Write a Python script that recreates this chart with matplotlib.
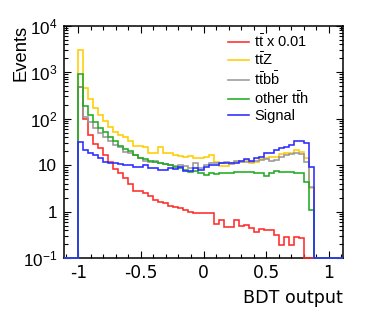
import numpy as np
import matplotlib
matplotlib.use("Agg")
import matplotlib.pyplot as plt
from matplotlib.ticker import FixedLocator, MultipleLocator, LogLocator, FuncFormatter, NullFormatter

plt.rcParams['font.family'] = ['Liberation Sans', 'DejaVu Sans']
plt.rcParams['mathtext.fontset'] = 'custom'
plt.rcParams['mathtext.rm'] = 'Liberation Sans'
plt.rcParams['mathtext.it'] = 'Liberation Sans:italic'
plt.rcParams['mathtext.default'] = 'rm'
plt.rcParams['axes.unicode_minus'] = False

# ---- data (50 bins from -1 to 1) ----
bin_lo, bin_hi, n_bins = -1.0, 1.0, 50

tt_x001 = [480, 100, 44, 29, 23, 16.5, 11.5, 8.1, 6.6, 5.2,
           4.0, 2.7, 2.7, 2.47, 2.2, 1.8, 1.63, 1.5, 1.32, 1.23,
           1.2, 1.08, 0.97, 0.93, 0.91, 0.91, 0.91, 0.54, 0.66, 0.46,
           0.46, 0.66, 0.50, 0.52, 0.45, 0.36, 0.42, 0.40, 0.40, 0.31,
           0.19, 0.28, 0.19, 0.29, 0.27, 0, 0, 0, 0, 0]

ttZ = [2950, 464, 260, 166, 120, 90, 67, 52, 45, 41,
       33, 26, 26, 24, 18.5, 18.5, 24.9, 18.5, 17.8, 16.5,
       15.7, 14.7, 15.7, 14, 14, 14.7, 16.5, 11.9, 9.6, 9.6,
       10.9, 11.9, 11.9, 13.0, 11.3, 11.9, 13.3, 14, 15.2, 15.2,
       17.5, 18.1, 18.5, 21, 19.5, 14, 3.2, 0, 0, 0]

ttbb = [480, 110, 83, 64, 48, 41, 33, 27, 24, 19.4,
        17.9, 16.5, 14.5, 12.4, 11.9, 12.3, 10.9, 10.6, 10.1, 9.6,
        10.1, 9.6, 8.6, 10.9, 8.6, 10.1, 10.9, 10.9, 11.3, 11.9,
        10.5, 12, 11.5, 11.9, 11.5, 12.3, 12.7, 13.7, 12.0, 13.0,
        15, 16.5, 17.2, 17.8, 17.2, 11.9, 3.3, 0, 0, 0]

other_tth = [927, 190, 120, 83, 62, 51, 41, 33, 26, 22,
             20, 16.5, 14.5, 13.3, 12.4, 11.9, 11.3, 10.6, 10.1, 9.3,
             8.6, 7.8, 7.2, 7.5, 6.7, 6.1, 6.7, 6.4, 6.7, 6.9,
             6.9, 7.0, 7.0, 7.2, 7.2, 6.9, 6.9, 5.8, 6.9, 7.3,
             7.2, 7.0, 7.0, 6.9, 6.9, 4.4, 1.08, 0, 0, 0]

signal = [31.5, 21.5, 18, 16.5, 14, 11.8, 10.9, 10.9, 10.4, 10,
          10, 9.2, 8.9, 10, 8.6, 8.6, 7.8, 7.8, 8.6, 8.2,
          9.3, 7.6, 7.6, 8.6, 7.8, 9.3, 10.1, 10.1, 10.9, 11.3,
          10.9, 10.9, 12.3, 13.3, 12.4, 14, 15.2, 17.9, 18.5, 21.1,
          22.8, 24.9, 27, 33.6, 33.6, 29.4, 9.3, 0, 0, 0]

labels = [r'$\mathrm{t\bar{t}}$ x 0.01', r'$\mathrm{t\bar{t}Z}$',
          r'$\mathrm{t\bar{t}b\bar{b}}$', r'other $\mathrm{t\bar{t}h}$', 'Signal']
colors = ['#ff2a2a', '#ffcc00', '#999999', '#22aa22', '#2a2aff']
series = [tt_x001, ttZ, ttbb, other_tth, signal]

xtick_vals = [-1, -0.5, 0, 0.5, 1]
xlim = (-1.115, 1.115)
ylim = (0.1, 1e4)

fig = plt.figure(figsize=(3.74, 3.16), dpi=100)
ax = fig.add_axes([64/374, 1-258/316, (343-64)/374, (258-25.7)/316])

edges = np.linspace(bin_lo, bin_hi, n_bins + 1)
edges_ext = np.concatenate([[xlim[0]], edges, [xlim[1]]])
for vals, col, lab in zip(series, colors, labels):
    v = np.asarray(vals, dtype=float)
    v = np.where(v > 0, v, ylim[0])
    v_ext = np.concatenate([[ylim[0]], v, [ylim[0]]])
    ax.stairs(v_ext, edges_ext, baseline=None, color=col, lw=1.15,
              label=lab, zorder=3, clip_on=False)

ax.set_yscale('log')
ax.set_xlim(*xlim)
ax.set_ylim(*ylim)

ax.xaxis.set_major_locator(FixedLocator(xtick_vals))
ax.xaxis.set_minor_locator(MultipleLocator(0.1))
ax.xaxis.set_major_formatter(FuncFormatter(lambda x, p: '%g' % x))

def yfmt(y, p):
    e = int(round(np.log10(y)))
    if e == 0:
        return '1'
    if e == 1:
        return '10'
    return r'$10^{%d}$' % e

ax.yaxis.set_major_locator(LogLocator(base=10, numticks=10))
ax.yaxis.set_minor_locator(LogLocator(base=10, subs=np.arange(2, 10), numticks=20))
ax.yaxis.set_major_formatter(FuncFormatter(yfmt))
ax.yaxis.set_minor_formatter(NullFormatter())

ax.tick_params(which='both', direction='in', top=True, right=True, width=0.8, color='black')
ax.tick_params(which='major', length=5)
ax.tick_params(which='minor', length=2.7)
ax.tick_params(axis='x', which='major', labelsize=12.3, pad=4.5)
ax.tick_params(axis='y', which='major', labelsize=12.3, pad=5)
for lab in ax.get_xticklabels():
    lab.set_family('DejaVu Sans')
for s in ax.spines.values():
    s.set_linewidth(1.1)

fig.text(343/374, 1-303/316, 'BDT output', ha='right', va='baseline',
         fontsize=12.6, family='DejaVu Sans')
fig.text(29.5/374, 1-25/316, 'Events', ha='right', va='top', rotation=90,
         fontsize=13.2)

leg = ax.legend(loc='upper left', bbox_to_anchor=(0.589, 0.969), frameon=False,
                fontsize=10.5, handlelength=1.45, handletextpad=0.3,
                labelspacing=0.13, borderpad=0, borderaxespad=0)

fig.savefig('out.png', dpi=100)
